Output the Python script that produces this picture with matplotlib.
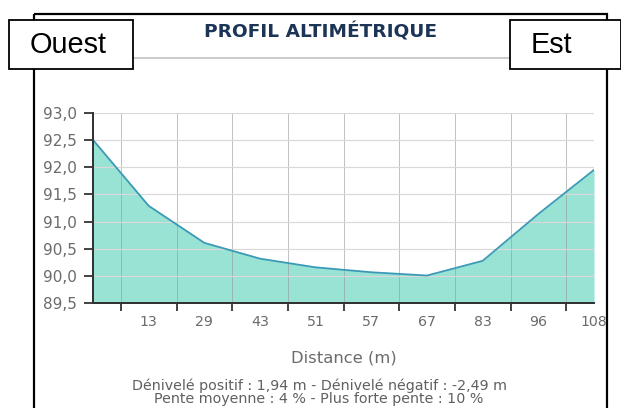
import matplotlib
matplotlib.use("Agg")
import matplotlib.pyplot as plt
from matplotlib.patches import Rectangle
from matplotlib.ticker import FuncFormatter

# Data
distance_labels = ["", "13", "29", "43", "51", "57", "67", "83", "96", "108"]
altitudes = [92.5, 91.29, 90.61, 90.32, 90.16, 90.07, 90.01, 90.28, 91.14, 91.95]
y_ticks = [89.5, 90.0, 90.5, 91.0, 91.5, 92.0, 92.5, 93.0]
title = "PROFIL ALTIMÉTRIQUE"
x_title = "Distance (m)"
stats_line1 = "Dénivelé positif : 1,94 m - Dénivelé négatif : -2,49 m"
stats_line2 = "Pente moyenne : 4 % - Plus forte pente : 10 %"

W, H = 621, 408
DPI = 100
fig = plt.figure(figsize=(W / DPI, H / DPI), dpi=DPI)
fig.patch.set_facecolor("white")

def px(v):
    return v * 72.0 / DPI

# overlay in pixel coordinates
ov = fig.add_axes([0, 0, 1, 1], zorder=0)
ov.set_xlim(0, W)
ov.set_ylim(H, 0)
ov.axis("off")

# main plot
left, right, top, bottom = 93, 594, 112.7, 303.3
ax = fig.add_axes([left / W, (H - bottom) / H, (right - left) / W, (bottom - top) / H], zorder=2)
ax.patch.set_alpha(0)
x = list(range(len(altitudes)))
ymin, ymax = y_ticks[0], y_ticks[-1]
ax.fill_between(x, altitudes, ymin, color="#98e3d4", linewidth=0, zorder=1)
ax.plot(x, altitudes, color="#3a9ab6", linewidth=px(1.8), zorder=3)
ax.set_xlim(0, len(altitudes) - 1)
ax.set_ylim(ymin, ymax)

# ticks between categories, labels at categories
ax.set_xticks([i + 0.5 for i in range(len(altitudes) - 1)])
ax.set_xticklabels([])
ax.set_xticks(x, minor=True)
ax.set_xticklabels(distance_labels, minor=True)
ax.tick_params(axis="x", which="major", length=px(8), width=px(1.8), color="#333333", direction="out")
ax.tick_params(axis="x", which="minor", length=0, pad=px(12), labelsize=10.2, labelcolor="#6b6b6b")
ax.set_yticks(y_ticks)
ax.yaxis.set_major_formatter(FuncFormatter(lambda v, p: f"{v:.1f}".replace(".", ",")))
ax.tick_params(axis="y", length=px(9), width=px(1.8), color="#333333", labelsize=11,
               labelcolor="#6b6b6b", pad=px(7.5))

ax.grid(True, axis="y", which="major", color="#d9d9d9", linewidth=px(1.2), zorder=2)
ax.grid(True, axis="x", which="major", color="#9a9a9a", linewidth=px(1.0), alpha=0.6, zorder=2)
ax.set_axisbelow(False)
for s in ["top", "right"]:
    ax.spines[s].set_visible(False)
for s in ["left", "bottom"]:
    ax.spines[s].set_color("#333333")
    ax.spines[s].set_linewidth(px(2))
    ax.spines[s].set_zorder(4)

# frame
ov.add_patch(Rectangle((34, 13.5), 573, 420, fill=False, edgecolor="black", linewidth=px(2.2)))
# title underline
ov.plot([130, 512], [58, 58], color="#cccccc", linewidth=px(2))
ov.text(321, 31.5, title, ha="center", va="center", fontsize=13.3, fontweight="bold",
        family="DejaVu Sans", color="#1c3557")
# boxes
ov.add_patch(Rectangle((8.5, 19.5), 124, 49, facecolor="white", edgecolor="black", linewidth=px(1.8), zorder=3))
ov.add_patch(Rectangle((509.5, 19.5), 111, 49, facecolor="white", edgecolor="black", linewidth=px(1.8), zorder=3))
ov.text(68.5, 45, "Ouest", ha="center", va="center", fontsize=20.8, family="Liberation Sans", color="black", zorder=4)
ov.text(551, 45, "Est", ha="center", va="center", fontsize=20.8, family="Liberation Sans", color="black", zorder=4)

# axis title and stats
ov.text(343.5, 358, x_title, ha="center", va="center", fontsize=11.8, color="#6b6b6b")
ov.text(319, 385.5, stats_line1, ha="center", va="center", fontsize=10.3, color="#606060")
ov.text(319, 399.5, stats_line2, ha="center", va="center", fontsize=10.3, color="#606060")

fig.savefig("out.png", dpi=DPI)
